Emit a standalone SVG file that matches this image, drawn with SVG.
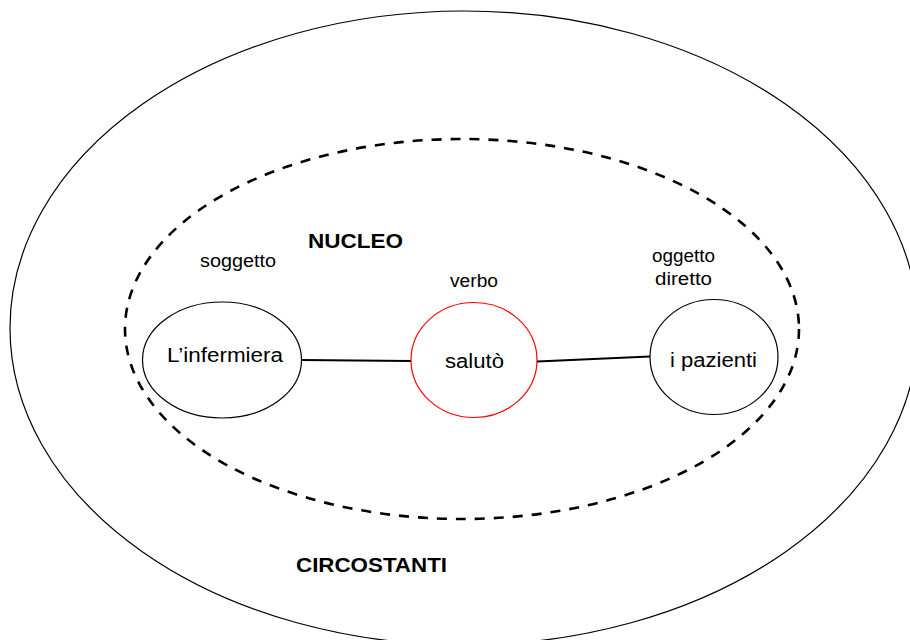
<svg xmlns="http://www.w3.org/2000/svg" width="910" height="640" viewBox="0 0 910 640">
<style>
.bg{fill:#ffffff}
.outer{fill:none;stroke:#000;stroke-width:1.2}
.nucleo{fill:none;stroke:#000;stroke-width:2.6;stroke-dasharray:10 9}
.node{fill:#fff;stroke:#000;stroke-width:1.2}
.verb{fill:#fff;stroke:#ff0000;stroke-width:1.2}
.conn{stroke:#000;stroke-width:2.2;fill:none}
.t{font-family:"Liberation Sans",Arial,sans-serif;fill:#000}
.main{font-size:20px}
.small{font-size:17.5px}
.bold{font-size:20px;font-weight:bold}
</style>
<rect class="bg" x="0" y="0" width="910" height="640"/>
<g id="circostanti">
<ellipse class="outer" cx="464" cy="328" rx="454" ry="317"/>
<text class="t bold" x="296" y="572" textLength="151" lengthAdjust="spacingAndGlyphs">CIRCOSTANTI</text>
</g>
<g id="nucleo">
<ellipse class="nucleo" cx="462" cy="329" rx="337" ry="190"/>
<text class="t bold" x="308" y="248" textLength="95" lengthAdjust="spacingAndGlyphs">NUCLEO</text>
</g>
<g id="connectors">
<line class="conn" x1="301" y1="360" x2="411" y2="361"/>
<line class="conn" x1="537" y1="361.5" x2="650" y2="356.5"/>
</g>
<g id="soggetto">
<ellipse class="node" cx="222" cy="360" rx="79.5" ry="58"/>
<text class="t small" x="200" y="267" textLength="76" lengthAdjust="spacingAndGlyphs">soggetto</text>
<text class="t main" x="167" y="362" textLength="116" lengthAdjust="spacingAndGlyphs">L’infermiera</text>
</g>
<g id="verbo">
<ellipse class="verb" cx="474" cy="360" rx="63" ry="57.5"/>
<text class="t small" x="450" y="287" textLength="48" lengthAdjust="spacingAndGlyphs">verbo</text>
<text class="t main" x="445" y="368" textLength="59" lengthAdjust="spacingAndGlyphs">salutò</text>
</g>
<g id="oggetto">
<ellipse class="node" cx="714" cy="357" rx="64" ry="57.5"/>
<text class="t small" x="652" y="262" textLength="63" lengthAdjust="spacingAndGlyphs">oggetto</text>
<text class="t small" x="655" y="285" textLength="57" lengthAdjust="spacingAndGlyphs">diretto</text>
<text class="t main" x="670" y="367" textLength="87" lengthAdjust="spacingAndGlyphs">i pazienti</text>
</g>
</svg>
